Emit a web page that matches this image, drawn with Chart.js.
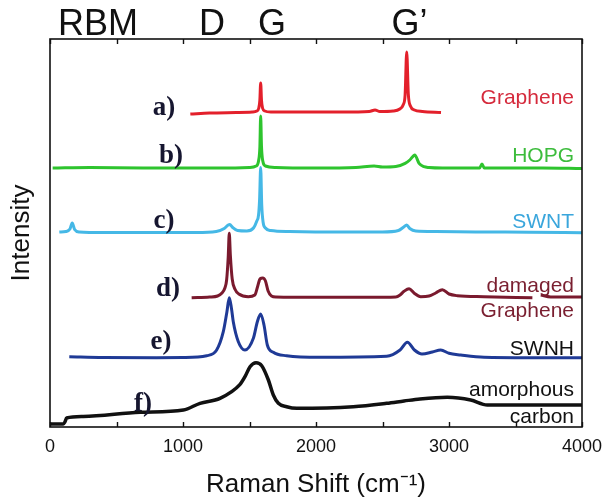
<!DOCTYPE html>
<html>
<head>
<meta charset="utf-8">
<script src="https://cdn.jsdelivr.net/npm/chart.js@4.4.1/dist/chart.umd.min.js"></script>
<style>
  html, body { margin: 0; padding: 0; background: #ffffff; }
  #wrap { width: 604px; height: 498px; }
</style>
</head>
<body>
<div id="wrap"><canvas id="c" width="604" height="498"></canvas></div>
<script>
// ---- data (Raman shift in cm^-1, intensity in offset plot units) ----
const xTickValues = [0, 1000, 2000, 3000, 4000];

const shiftA = [1055, 1200, 1400, 1520, 1555, 1570, 1578, 1584, 1590, 1598, 1615, 1660, 1900, 2200, 2400, 2444, 2480, 2580, 2630, 2655, 2670, 2682, 2694, 2710, 2740, 2800, 2940];
const intensityA = [313, 314, 314.5, 315, 316, 319, 327, 344, 327, 319, 316, 315, 315, 315, 315.5, 317, 315.5, 316, 318, 322, 332, 375, 333, 321, 317, 315.5, 314.5];

const shiftB = [20, 300, 700, 1000, 1300, 1500, 1550, 1568, 1578, 1584, 1590, 1600, 1620, 1700, 2000, 2300, 2437, 2500, 2600, 2670, 2705, 2725, 2742, 2775, 2812, 2850, 2950, 3100, 3230, 3248, 3265, 3400, 3700, 4000];
const intensityB = [259, 259.5, 259, 259, 259, 259.5, 261, 266, 280, 311, 281, 266, 261, 259.5, 259, 259.5, 261, 260, 260.5, 263.7, 267, 270, 272, 263.7, 260.3, 259.5, 259, 259, 259, 263, 259, 259, 259, 258.5];

const shiftC = [70, 120, 150, 167, 185, 220, 400, 800, 1100, 1250, 1310, 1340, 1352, 1370, 1410, 1480, 1530, 1555, 1568, 1576, 1584, 1592, 1602, 1620, 1660, 1800, 2200, 2500, 2620, 2660, 2682, 2705, 2750, 2900, 3200, 3600, 4000];
const intensityC = [195, 195.5, 198, 204, 197.5, 195, 194.5, 194.5, 194.5, 195.5, 198.5, 202, 202.5, 200, 196.5, 196, 199, 206, 212, 228, 259.5, 222, 205, 199, 196.5, 195.5, 195, 195, 196.5, 200, 202, 198.5, 196, 195.5, 195, 194.8, 194.3];

const shiftD = [1065, 1200, 1260, 1291, 1315, 1328, 1340, 1348, 1356, 1370, 1391, 1420, 1491, 1540, 1560, 1580, 1600, 1620, 1640, 1665, 1700, 2000, 2400, 2600, 2632, 2662, 2700, 2737, 2787, 2850, 2900, 2950, 3000, 3063, 3263, 3627, 3650, 3670, 3690, 3765, 4000];
const intensityD = [129.3, 130, 131, 133.7, 139, 147, 170, 193.7, 172, 148, 137.7, 133, 130.3, 132, 140, 148.3, 149, 146, 136, 131, 130, 129.7, 129.7, 130, 132, 135.7, 138.3, 134, 130.3, 131, 134, 137.3, 133, 131.3, 130.3, 129.3, null, null, 132, 130, 130];

const shiftE = [145, 400, 800, 1000, 1178, 1253, 1303, 1330, 1348, 1365, 1378, 1416, 1466, 1529, 1559, 1584, 1609, 1634, 1679, 1779, 2030, 2531, 2632, 2687, 2740, 2797, 2875, 2938, 3000, 3088, 3263, 3600, 4000];
const intensityE = [70.3, 69.5, 69.3, 69.5, 71.3, 77, 95.3, 115, 129.3, 118, 105.3, 85.3, 77, 88.7, 105.3, 113, 102, 82, 74.7, 71.3, 69.7, 70.7, 77, 84.7, 77, 73, 75, 77, 73.7, 72, 69.7, 69.3, 69.3];

const shiftF = [0, 100, 112, 125, 250, 677, 1003, 1128, 1278, 1429, 1466, 1504, 1549, 1592, 1642, 1679, 1717, 1779, 1855, 2280, 2531, 2662, 2782, 2987, 3163, 3288, 3600, 4000];
const intensityF = [3, 3, 5, 9, 10.5, 14.7, 17, 23.7, 28.7, 42.7, 50.3, 60.3, 64.3, 61.3, 47, 32, 23.7, 20.3, 18.7, 20.3, 23.7, 26, 28, 29.7, 27, 22, 22, 22];

const bandNames = ['RBM', 'D', 'G', 'G\u2019'];
const bandShifts = [361, 1218, 1669, 2703];

const sampleTags = ['a)', 'b)', 'c)', 'd)', 'e)', 'f)'];
const sampleNames = [['Graphene'], ['HOPG'], ['SWNT'], ['damaged', 'Graphene'], ['SWNH'], ['amorphous', 'carbon']];

// ---- presentation ----
const seriesColors = ['#e3202b', '#2ec42e', '#45b8e6', '#7a1a2e', '#1f3a96', '#111111'];
const nameColors = ['#d52a3c', '#3cbc3c', '#3aa6dc', '#7a1f30', '#111111', '#111111'];
const tagPos = [[857, 319], [910, 271], [857, 206], [887, 138], [835, 84.5], [699, 23]];
const nameRightX = 3940;
const nameLevels = [[329], [271], [204.5], [141, 116], [78], [36.5, 9.5]];

function toPoints(xs, ys) { return xs.map((x, i) => ({ x: x, y: ys[i] })); }

const seriesX = [shiftA, shiftB, shiftC, shiftD, shiftE, shiftF];
const seriesY = [intensityA, intensityB, intensityC, intensityD, intensityE, intensityF];

const datasets = seriesX.map((xs, i) => ({
  label: sampleNames[i].join(' '),
  data: toPoints(xs, seriesY[i]),
  borderColor: seriesColors[i],
  borderWidth: i === 5 ? 3.5 : 3,
  pointRadius: 0,
  fill: false,
  spanGaps: false,
  cubicInterpolationMode: 'monotone'
}));

const decor = {
  id: 'decor',
  afterDatasetsDraw(chart) {
    const { ctx, chartArea: ca, scales } = chart;
    const x = scales.x, y = scales.y;
    ctx.save();
    // frame
    ctx.strokeStyle = '#111111';
    ctx.lineWidth = 1.6;
    ctx.strokeRect(ca.left, ca.top, ca.right - ca.left, ca.bottom - ca.top);
    // inward ticks (top and bottom)
    ctx.lineWidth = 1.4;
    x.ticks.forEach((t, i) => {
      const px = Math.round(x.getPixelForTick(i)) + 0.5;
      ctx.beginPath();
      ctx.moveTo(px, ca.bottom); ctx.lineTo(px, ca.bottom - 5);
      ctx.moveTo(px, ca.top); ctx.lineTo(px, ca.top + 5);
      ctx.stroke();
    });
    // band labels above the plot
    ctx.fillStyle = '#111111';
    ctx.font = '36px "Liberation Sans", Arial, sans-serif';
    ctx.textAlign = 'center';
    ctx.textBaseline = 'alphabetic';
    bandNames.forEach((n, i) => ctx.fillText(n, x.getPixelForValue(bandShifts[i]), ca.top - 4));
    // sample tags a) ... f)
    ctx.font = 'bold 27px "Liberation Serif", "Times New Roman", serif';
    ctx.fillStyle = '#161630';
    ctx.textBaseline = 'middle';
    sampleTags.forEach((t, i) => ctx.fillText(t, x.getPixelForValue(tagPos[i][0]), y.getPixelForValue(tagPos[i][1])));
    // sample names
    ctx.font = '21px "Liberation Sans", Arial, sans-serif';
    ctx.textAlign = 'right';
    sampleNames.forEach((lines, i) => {
      ctx.fillStyle = nameColors[i];
      lines.forEach((s, j) => ctx.fillText(s, x.getPixelForValue(nameRightX), y.getPixelForValue(nameLevels[i][j])));
    });
    ctx.restore();
  }
};

new Chart(document.getElementById('c'), {
  type: 'line',
  data: { datasets: datasets },
  options: {
    responsive: false,
    animation: false,
    devicePixelRatio: 1,
    layout: { padding: { left: 5.8, right: 22, top: 39, bottom: 0 } },
    plugins: { legend: { display: false }, tooltip: { enabled: false } },
    scales: {
      x: {
        type: 'linear',
        min: 0, max: 4000,
        border: { display: false },
        grid: { display: false, drawTicks: false },
        afterFit: (s) => { s.height = 71; s.paddingLeft = 0; s.paddingRight = 0; },
        ticks: {
          stepSize: 500,
          autoSkip: false,
          maxRotation: 0,
          padding: 9,
          color: '#111111',
          font: { family: '"Liberation Sans", Arial, sans-serif', size: 18 },
          callback: (v) => (xTickValues.includes(v) ? String(v) : '')
        },
        title: {
          display: true,
          text: 'Raman Shift (cm\u207B\u00B9)',
          color: '#111111',
          padding: { top: 4, bottom: -2 },
          font: { family: '"Liberation Sans", Arial, sans-serif', size: 26 }
        }
      },
      y: {
        min: 0, max: 388,
        border: { display: false },
        grid: { display: false, drawTicks: false },
        afterFit: (s) => { s.width = 44.2; s.paddingTop = 0; s.paddingBottom = 0; },
        ticks: { display: false },
        title: {
          display: true,
          text: 'Intensity',
          color: '#111111',
          padding: { top: 0, bottom: 13.2 },
          font: { family: '"Liberation Sans", Arial, sans-serif', size: 26 }
        }
      }
    }
  },
  plugins: [decor]
});
</script>
</body>
</html>
